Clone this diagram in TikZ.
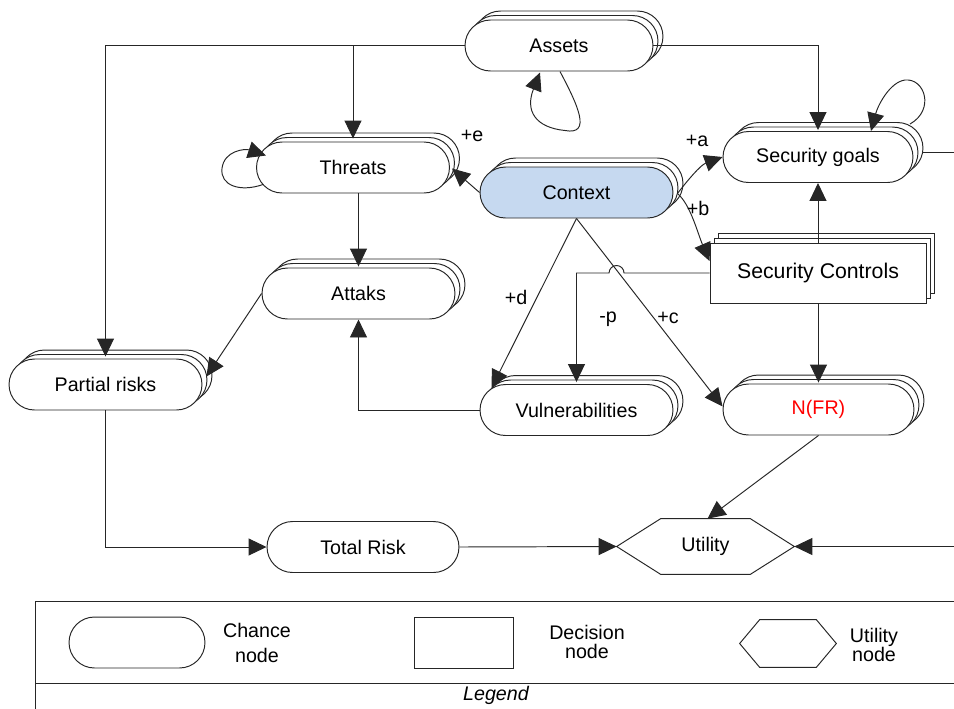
\documentclass[tikz,border=0pt]{standalone}
\usepackage{fontspec}
\setmainfont{Liberation Sans}
\usetikzlibrary{shapes.misc,shadows,arrows.meta,calc}
\definecolor{ctxblue}{RGB}{198,217,240}
\begin{document}
\begin{tikzpicture}[x=0.02cm,y=-0.02cm,
  txt/.style={font=\fontsize{11.2pt}{13.4pt}\selectfont},
  ln/.style={draw=black!85, line width=0.55pt},
  chance/.style={ln, txt, rounded rectangle, fill=white, minimum width=3.86cm, minimum height=1.02cm, inner sep=0pt},
  stacked/.style={copy shadow={shadow xshift=0.2cm, shadow yshift=0.18cm, fill=white, draw=black!85, line width=0.55pt},
                  copy shadow={shadow xshift=0.1cm, shadow yshift=0.09cm, fill=white, draw=black!85, line width=0.55pt}},
  decision/.style={ln, rectangle, fill=white, minimum width=4.32cm, minimum height=1.2cm, inner sep=0pt, font=\fontsize{12.1pt}{14pt}\selectfont},
  dstacked/.style={copy shadow={shadow xshift=0.16cm, shadow yshift=0.2cm, fill=white, draw=black!85, line width=0.55pt},
                   copy shadow={shadow xshift=0.08cm, shadow yshift=0.1cm, fill=white, draw=black!85, line width=0.55pt}},
  arr/.style={ln, -{Triangle[length=0.36cm,width=0.34cm]}},
  lbl/.style={txt, inner sep=0pt},
]
\useasboundingbox (0,0) rectangle (954,708);
\clip (0,0) rectangle (954,708);

% ---------- nodes ----------
\node[chance, stacked, minimum width=3.76cm] (assets) at (559,45.5) {Assets};
\node[chance, stacked] (thr) at (353,167.5) {Threats};
\node[chance, stacked, fill=ctxblue] (ctx) at (576.5,192.5) {Context};
\node[chance, stacked, minimum width=3.8cm] (sg) at (818,157) {Security goals};
\node[decision, dstacked] (sc) at (818,273) {Security Controls};
\node[chance, stacked] (att) at (358.5,293.5) {Attaks};
\node[chance, stacked] (pr) at (105.5,384.5) {Partial risks};
\node[chance, stacked] (vul) at (576.5,410) {Vulnerabilities};
\node[chance, stacked, minimum width=3.82cm, text=red] (nfr) at (818.5,409.5) {N(FR)};
\node[chance, minimum width=3.84cm] (tr) at (363,547) {Total Risk};
\node[txt, minimum width=3.54cm, minimum height=1.1cm, inner sep=0pt] (util) at (705.5,546.5) {Utility};
\draw[ln] (util.west) -- ($(util.north west)+(44,0)$) -- ($(util.north east)+(-44,0)$)
  -- (util.east) -- ($(util.south east)+(-44,0)$) -- ($(util.south west)+(44,0)$) -- cycle;

% ---------- connectors ----------
\draw[arr] (assets.west) -| ($(pr.north)+(0,-2)$);
\draw[arr] (assets.west -| thr.north) -- ($(thr.north)+(0,-3)$);
\draw[arr] (assets.east) -| ($(sg.north)+(0,-1)$);
\draw[arr] ($(assets.center)+(1,26)$) .. controls ($(assets.center)+(19,60)$) and ($(assets.center)+(33,90)$) ..
  ($(assets.center)+(6,85)$) .. controls ($(assets.center)+(-24,82)$) and ($(assets.center)+(-34,65)$) ..
  ($(assets.center)+(-19,27)$);
\draw[arr] ($(sg.center)+(92,-33)$) .. controls ($(sg.center)+(117,-47)$) and ($(sg.center)+(107,-79)$) ..
  ($(sg.center)+(87,-77)$) .. controls ($(sg.center)+(72,-75)$) and ($(sg.center)+(60,-52)$) ..
  ($(sg.center)+(53,-26)$);
\draw[arr] ($(thr.center)+(-90,17)$) .. controls ($(thr.center)+(-113,25)$) and ($(thr.center)+(-133,18)$) ..
  ($(thr.center)+(-131,1)$) .. controls ($(thr.center)+(-129,-17)$) and ($(thr.center)+(-108,-19)$) ..
  ($(thr.center)+(-87,-12)$);

\draw[arr] (ctx.west) -- ($(thr.east)+(2,1)$);
\draw[arr] ($(ctx.east)+(4,1)$) .. controls ($(ctx.east)+(14,-12)$) and ($(sg.west)+(-22,8)$) .. (sg.west);
\draw[arr] ($(ctx.east)+(4,1)$) .. controls ($(ctx.east)+(17,12)$) and ($(sc.west)+(-12,-40)$) .. ($(sc.west)+(0,-12)$);
\draw[arr] (ctx.south) -- ($(vul.west)+(12,-22)$);
\draw[arr] (ctx.south) -- ($(nfr.west)+(0,-3)$);
\draw[arr] (sc.west) -- ++(-85.5,0) arc[start angle=0, end angle=180, radius=0.15cm] -| ($(vul.north)+(0,-2)$);
\draw[arr] (sc.north -| sg.south) -- (sg.south);
\draw[arr] (sc.south -| nfr.north) -- ($(nfr.north)+(0,-1)$);
\draw[arr] (nfr.south) -- ($(util.north)+(2,0)$);
\draw[arr] (tr.east) -- (util.west);
\draw[arr] (pr.south) |- (tr.west);
\draw[arr] (att.west) -- ($(pr.east)+(4,-8)$);
\draw[arr] (thr.south -| att.north) -- ($(att.north)+(0,-1)$);
\draw[arr] (vul.west) -| (att.south);
\coordinate (far) at (990,0);
\coordinate (sgr) at ($(sg.east)+(10,-5)$);
\draw[arr] (sgr) -- (sgr -| far) |- (util.east);

% ---------- labels ----------
\node[lbl] (le) at (472,136) {+e};
\node[lbl] (la) at (697,141) {+a};
\node[lbl] (lb) at (698,208) {+b};
\node[lbl] (ld) at (516,297) {+d};
\node[lbl] (lp) at (608,319) {-p};
\node[lbl] (lc) at (668,318) {+c};

% ---------- legend ----------
\draw[ln] (35,601) rectangle (1000,760);
\draw[ln] (35,683) -- (1000,683);
\node[chance, minimum width=2.72cm] (lgc) at (137,642.5) {};
\node[align=center, font={\fontsize{11.2pt}{14.5pt}\selectfont}] (lgct) at (257,643) {Chance\\node};
\node[ln, rectangle, minimum width=1.98cm, minimum height=1.02cm] (lgd) at (464,642.5) {};
\node[align=center, font={\fontsize{11.2pt}{11pt}\selectfont}] (lgdt) at (587,642) {Decision\\node};
\node[minimum width=1.92cm, minimum height=0.94cm, inner sep=0pt] (lgu) at (788,643.5) {};
\draw[ln] (lgu.west) -- ($(lgu.north west)+(20,0)$) -- ($(lgu.north east)+(-20,0)$)
  -- (lgu.east) -- ($(lgu.south east)+(-20,0)$) -- ($(lgu.south west)+(20,0)$) -- cycle;
\node[align=center, font={\fontsize{11.2pt}{11pt}\selectfont}] (lgut) at (874,645) {Utility\\node};
\node[font={\fontsize{11.2pt}{13.4pt}\selectfont\itshape}] (lgl) at (496,695) {Legend};
\end{tikzpicture}
\end{document}
